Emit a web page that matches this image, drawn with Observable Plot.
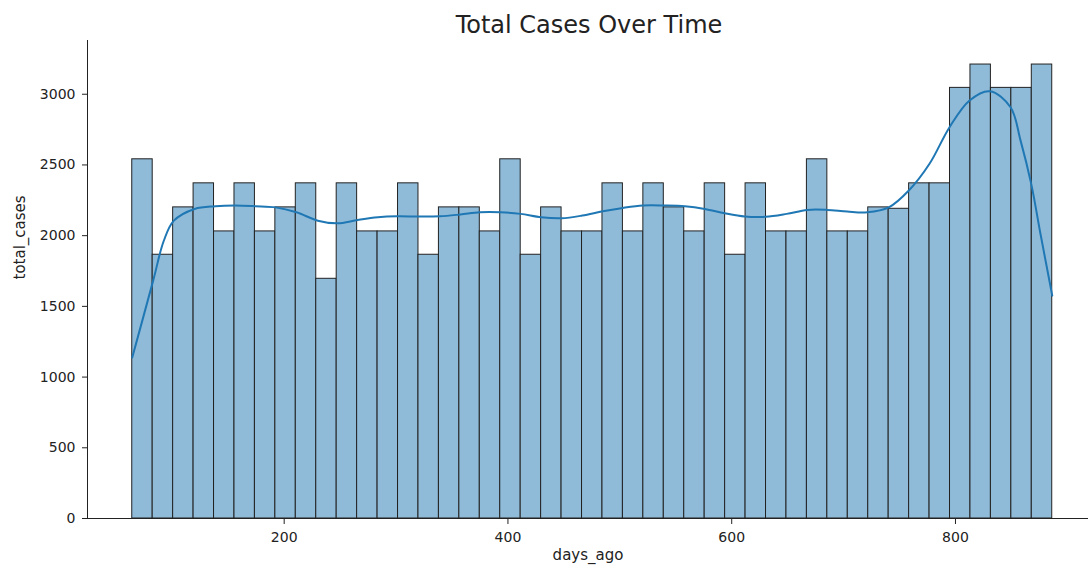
<!DOCTYPE html>
<html><head><meta charset="utf-8">
<script src="https://cdn.jsdelivr.net/npm/d3@7"></script>
<script src="https://cdn.jsdelivr.net/npm/@observablehq/plot@0.6"></script>
<style>
body{margin:0;background:#fff;font-family:"DejaVu Sans",sans-serif;width:1091px;height:569px;position:relative;overflow:hidden;}
#title{position:absolute;left:88px;top:11px;width:1002px;text-align:center;font-size:24px;line-height:28px;color:#222;}
#chart{position:absolute;left:0;top:40px;}
</style></head><body>
<div id="title">Total Cases Over Time</div>
<div id="chart"></div>
<script>
// Histogram bin edges (days_ago)
const binEdges = [64.2, 82.47, 100.75, 119.02, 137.29, 155.57, 173.84, 192.11, 210.38, 228.66, 246.93, 265.20, 283.48, 301.75, 320.02, 338.30, 356.57, 374.84, 393.11, 411.39, 429.66, 447.93, 466.21, 484.48, 502.75, 521.03, 539.30, 557.57, 575.84, 594.12, 612.39, 630.66, 648.94, 667.21, 685.48, 703.76, 722.03, 740.30, 758.57, 776.85, 795.12, 813.39, 831.67, 849.94, 868.21, 886.49];
// total_cases per bin
const binCases = [2540, 1865, 2200, 2370, 2030, 2370, 2030, 2200, 2370, 1695, 2370, 2030, 2030, 2370, 1865, 2200, 2200, 2030, 2540, 1865, 2200, 2030, 2030, 2370, 2030, 2370, 2200, 2030, 2370, 1865, 2370, 2030, 2030, 2540, 2030, 2030, 2200, 2190, 2370, 2370, 3045, 3210, 3045, 3045, 3210];
// KDE curve
const kdeDays = [64.2, 82.9, 92.4, 101.4, 119.9, 138.6, 155.9, 174.4, 192.3, 211.0, 230.1, 247.4, 265.8, 283.7, 301.0, 321.0, 339.1, 357.6, 374.9, 393.4, 411.3, 429.7, 447.9, 466.4, 484.8, 502.7, 520.6, 540.0, 558.1, 576.0, 593.8, 611.7, 630.2, 649.1, 667.5, 685.4, 703.3, 721.1, 740.4, 758.3, 776.8, 794.7, 812.6, 830.7, 849.2, 858.2, 867.7, 876.0, 886.5];
const kdeValues = [1139, 1682, 1964, 2106, 2189, 2208, 2213, 2208, 2200, 2165, 2106, 2087, 2111, 2130, 2137, 2135, 2137, 2150, 2165, 2165, 2154, 2130, 2123, 2142, 2172, 2196, 2213, 2213, 2208, 2189, 2158, 2135, 2133, 2154, 2182, 2182, 2170, 2165, 2200, 2319, 2508, 2767, 2956, 3021, 2908, 2672, 2366, 2012, 1576];
const xTicks = [200, 400, 600, 800];
const yTicks = [0, 500, 1000, 1500, 2000, 2500, 3000];
const xLabel = "days_ago";
const yLabel = "total_cases";

const bins = binCases.map((c, i) => ({x1: binEdges[i], x2: binEdges[i + 1], cases: c}));
const kde = kdeDays.map((d, i) => ({days: d, value: kdeValues[i]}));

const chart = Plot.plot({
  width: 1091,
  height: 529,
  marginLeft: 87,
  marginRight: 3,
  marginTop: 0,
  marginBottom: 51,
  style: {fontSize: "14px", fontFamily: "DejaVu Sans", color: "#222", background: "#fff"},
  x: {domain: [24.2, 918.9]},
  y: {domain: [0, 3380]},
  marks: [
    Plot.rect(bins, {x1: "x1", x2: "x2", y1: 0, y2: "cases", fill: "#8fbbd9", stroke: "#222", strokeWidth: 1}),
    Plot.line(kde, {x: "days", y: "value", stroke: "#1f77b4", strokeWidth: 2, curve: "catmull-rom"}),
    Plot.ruleX([24.2], {stroke: "#222", strokeWidth: 1}),
    Plot.ruleY([0], {stroke: "#222", strokeWidth: 1}),
    Plot.axisX({ticks: xTicks, tickFormat: d3.format("d"), tickSize: 6, tickPadding: 8, label: null, stroke: "#222"}),
    Plot.axisY({ticks: yTicks, tickFormat: d3.format("d"), tickSize: 5, tickPadding: 7, label: null, stroke: "#222"}),
    Plot.text([xLabel], {frameAnchor: "bottom", dy: 41, text: d => d, fontSize: 15, fill: "#222"}),
    Plot.text([yLabel], {frameAnchor: "left", dx: -67, rotate: -90, text: d => d, fontSize: 15, fill: "#222"})
  ]
});
document.getElementById("chart").appendChild(chart);
</script>
</body></html>
